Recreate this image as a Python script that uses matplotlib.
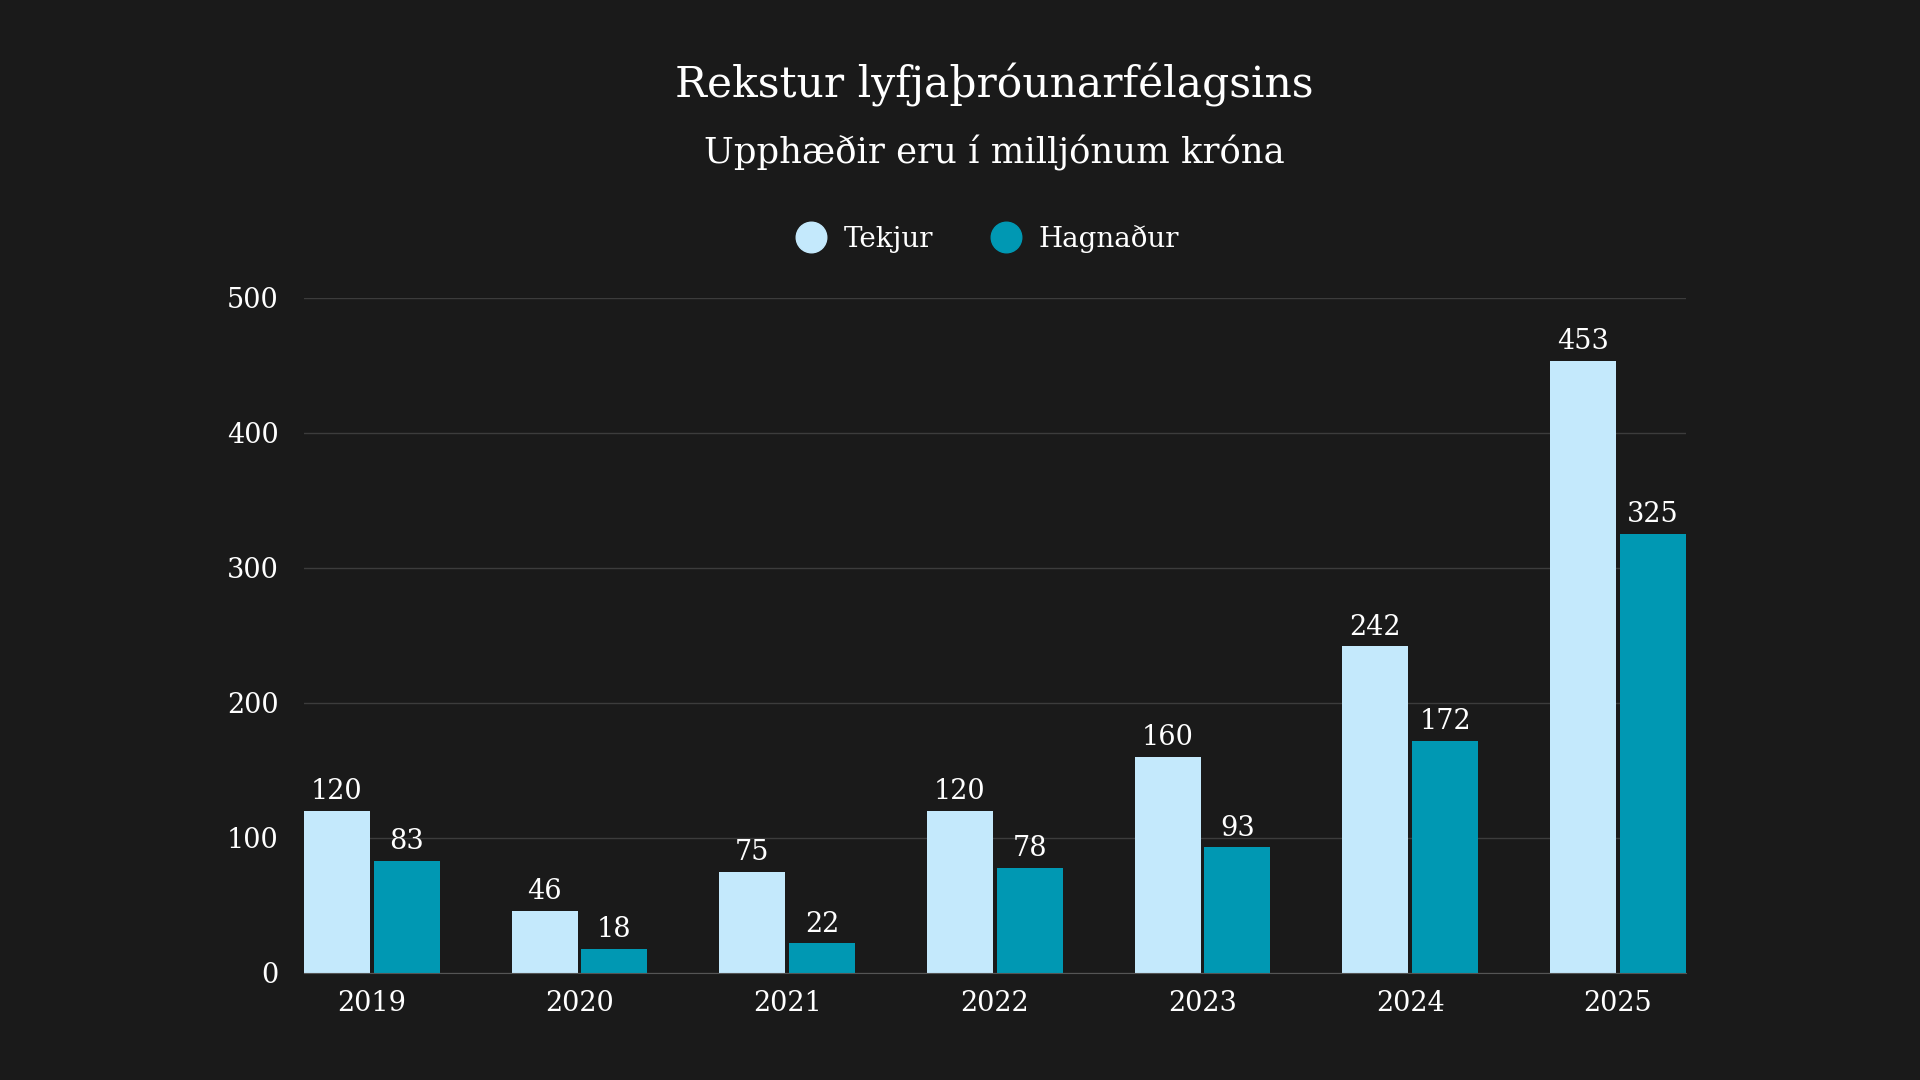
import matplotlib.pyplot as plt
import numpy as np
from matplotlib.lines import Line2D

# Data
years = ["2019", "2020", "2021", "2022", "2023", "2024", "2025"]
tekjur = [120, 46, 75, 120, 160, 242, 453]
hagnadur = [83, 18, 22, 78, 93, 172, 325]

bg = "#1a1a1a"
c_tekjur = "#c4e9fc"
c_hagn = "#0098b3"
txt = "#ffffff"

plt.rcParams["font.family"] = ["DejaVu Serif"]

fig = plt.figure(figsize=(19.2, 10.8), dpi=100, facecolor=bg)
ax = fig.add_axes([0.1583, 0.0991, 0.7197, 0.6254], facecolor=bg)

x = np.arange(len(years))
w = 0.318
gap = 0.009
b1 = ax.bar(x - w / 2 - gap, tekjur, w, color=c_tekjur, zorder=3)
b2 = ax.bar(x + w / 2 + gap, hagnadur, w, color=c_hagn, zorder=3)

for bars, vals in [(b1, tekjur), (b2, hagnadur)]:
    for r, v in zip(bars, vals):
        ax.annotate(str(v), (r.get_x() + r.get_width() / 2, v),
                    xytext=(0, 4), textcoords="offset points",
                    ha="center", va="bottom", color=txt, fontsize=19.5)

ax.set_xlim(-0.327, len(years) - 1 + 0.327)
ax.set_ylim(0, 500)
ax.set_yticks([0, 100, 200, 300, 400, 500])
ax.set_xticks(x)
ax.set_xticklabels(years)
ax.tick_params(axis="both", length=0, labelsize=19.5, colors=txt)
ax.tick_params(axis="y", pad=18)
ax.tick_params(axis="x", pad=12)
ax.grid(axis="y", color="#3c3c3c", linewidth=1, zorder=0)
for s in ["top", "right", "left"]:
    ax.spines[s].set_visible(False)
ax.spines["bottom"].set_color("#555555")
ax.spines["bottom"].set_zorder(4)

cx = 0.518
fig.text(cx, 0.921, "Rekstur lyfjaþróunarfélagsins", ha="center", va="center",
         color=txt, fontsize=30.5)
fig.text(cx, 0.858, "Upphæðir eru í milljónum króna", ha="center", va="center",
         color=txt, fontsize=25.5)

handles = [
    Line2D([], [], marker="o", linestyle="", markersize=22, color=c_tekjur, label="Tekjur"),
    Line2D([], [], marker="o", linestyle="", markersize=22, color=c_hagn, label="Hagnaður"),
]
fig.legend(handles=handles, loc="center", bbox_to_anchor=(0.511, 0.779), ncol=2,
           frameon=False, fontsize=20, labelcolor=txt, handletextpad=0.2,
           columnspacing=1.6)

fig.savefig("out.png", dpi=100, facecolor=bg)
